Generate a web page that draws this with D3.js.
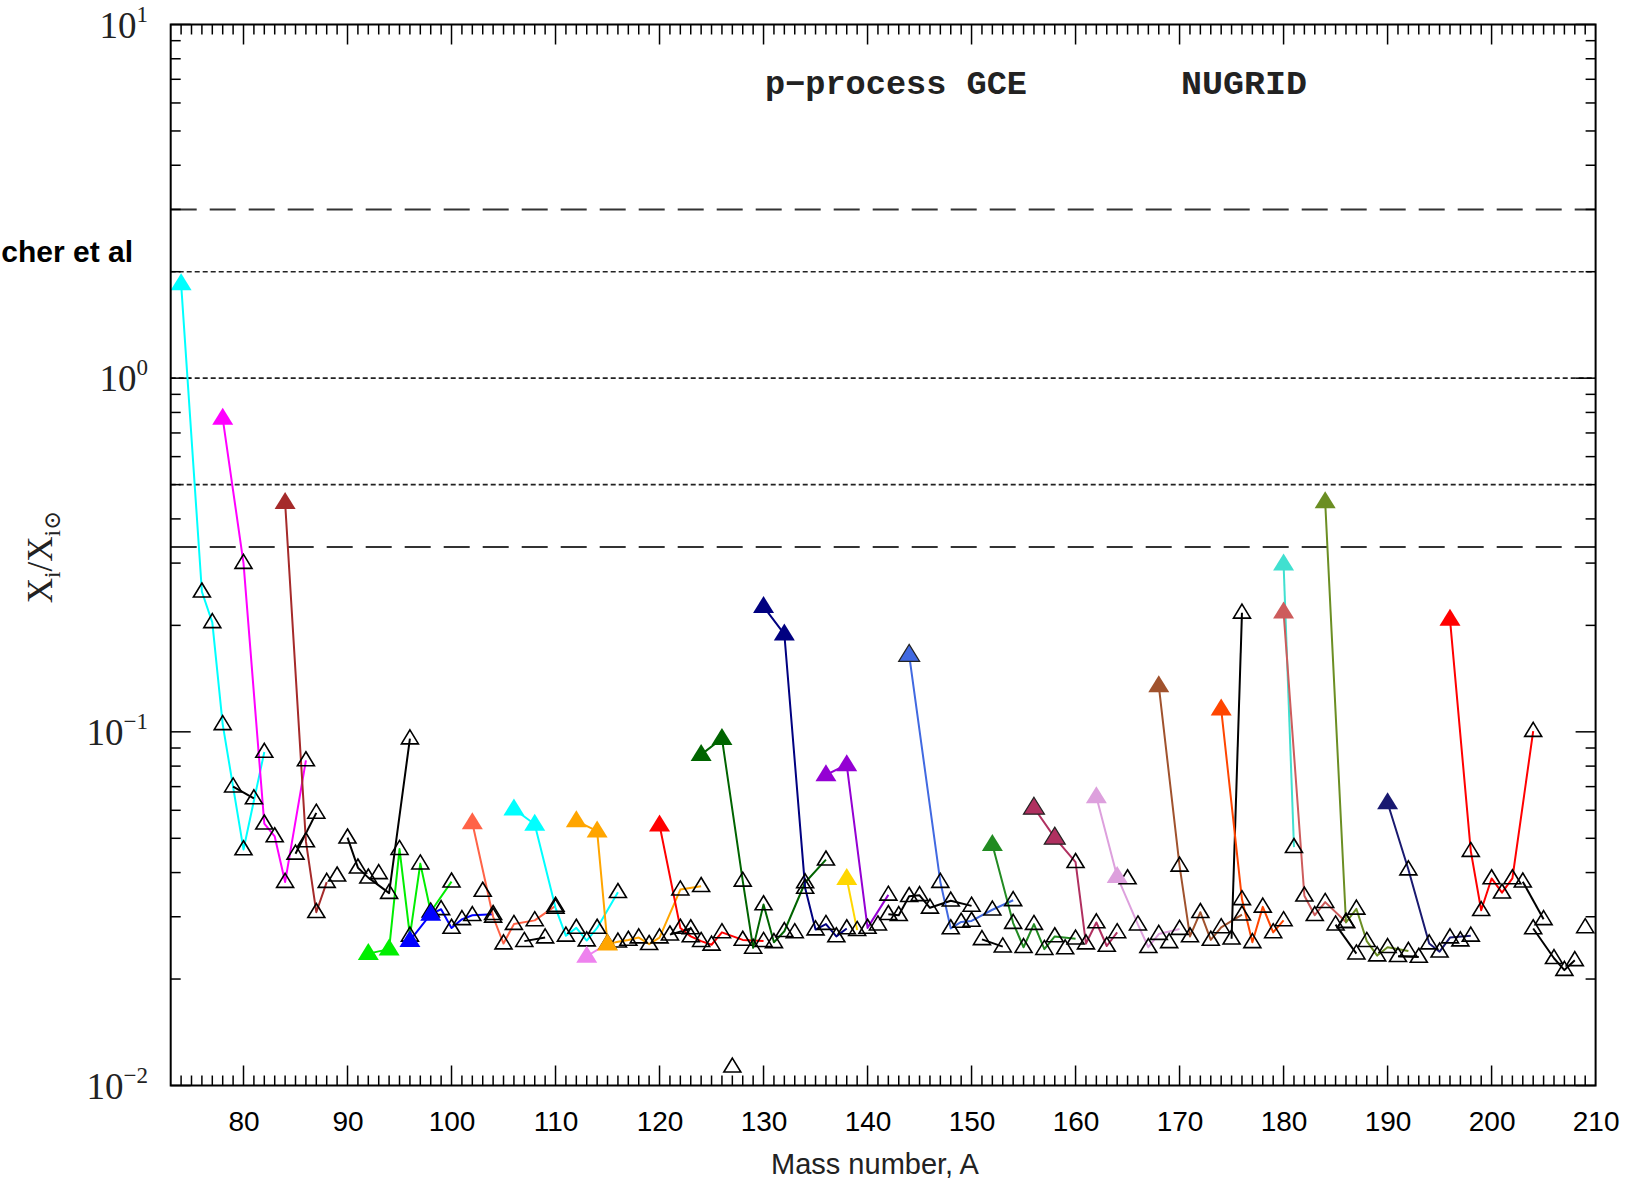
<!DOCTYPE html>
<html>
<head>
<meta charset="utf-8">
<script src="https://cdn.jsdelivr.net/npm/d3@7"></script>
<style>
  body { margin: 0; background: #fff; }
  svg { display: block; }
</style>
</head>
<body>
<svg id="chart" width="1632" height="1181"></svg>
<script>
// Isotopic overproduction X_i / X_i,sun from p-process GCE (NuGrid yields)
// each entry: [mass number A, ratio]
const Se = [[74,1.85],[76,0.249],[77,0.204],[78,0.105],[80,0.0465],[82,0.0877]];
const Br = [[79,0.070],[81,0.0648]];
const Kr = [[78,0.77],[80,0.30],[82,0.055],[83,0.0506],[84,0.0376],[86,0.083]];
const Rb = [[85,0.0452],[87,0.059]];
const Sr = [[84,0.445],[86,0.049],[87,0.0309],[88,0.0376]];
const Y  = [[89,0.0392]];
const Zr = [[90,0.0502],[91,0.0413],[92,0.0387],[94,0.035],[96,0.0957]];
const Nb = [[93,0.0398]];
const Mo = [[92,0.0236],[94,0.0243],[95,0.0466],[96,0.0265],[97,0.0424],[98,0.031],[100,0.0377]];
const Ru = [[96,0.0257],[98,0.0305],[99,0.0315],[100,0.0279],[101,0.0295],[102,0.0303],[104,0.0305]];
const Rh = [[103,0.0355]];
const Pd = [[102,0.0553],[104,0.030],[105,0.0252],[106,0.0286],[108,0.0293],[110,0.0322]];
const Ag = [[107,0.0256],[109,0.0262]];
const Cd = [[106,0.0605],[108,0.0548],[110,0.0318],[111,0.0265],[112,0.0279],[113,0.0257],[114,0.0279],[116,0.0352]];
const In = [[113,0.0232],[115,0.0252]];
const Sn = [[112,0.056],[114,0.0524],[115,0.0251],[116,0.0255],[117,0.0258],[118,0.0262],[119,0.0251],[120,0.0262],[122,0.0358],[124,0.0366]];
const Sb = [[121,0.0267],[123,0.0278]];
const Te = [[120,0.0545],[122,0.0279],[123,0.0264],[124,0.0256],[125,0.025],[126,0.0271],[128,0.0258],[130,0.0256]];
const I  = [[127,0.0113]];
const Xe = [[124,0.0862],[126,0.0958],[128,0.0379],[129,0.0245],[130,0.0325],[131,0.0254],[132,0.0273],[134,0.0375],[136,0.0435]];
const Cs = [[133,0.0271]];
const Ba = [[130,0.226],[132,0.189],[134,0.0362],[135,0.0276],[136,0.0286],[137,0.0264],[138,0.0278]];
const La = [[138,0.0385],[139,0.0275]];
const Ce = [[136,0.0756],[138,0.0807],[140,0.0279],[142,0.0346]];
const Pr = [[141,0.0285]];
const Nd = [[142,0.0305],[143,0.0303],[144,0.0343],[145,0.0345],[146,0.0318],[148,0.0333],[150,0.0322]];
const Sm = [[144,0.165],[147,0.0376],[148,0.0278],[149,0.029],[150,0.0292],[152,0.0314],[154,0.0334]];
const Eu = [[151,0.0259],[153,0.0247]];
const Gd = [[152,0.048],[154,0.0288],[155,0.0246],[156,0.0286],[157,0.0243],[158,0.0264],[160,0.026]];
const Tb = [[159,0.0244]];
const Dy = [[156,0.061],[158,0.0502],[160,0.0428],[161,0.0252],[162,0.0289],[163,0.0248],[164,0.0271]];
const Ho = [[165,0.0385]];
const Er = [[162,0.0655],[164,0.039],[166,0.0285],[167,0.0246],[168,0.0268],[170,0.0277]];
const Tm = [[169,0.0254]];
const Yb = [[168,0.135],[170,0.0418],[171,0.0264],[172,0.0309],[173,0.0258],[174,0.028],[176,0.0304]];
const Lu = [[175,0.026],[176,0.217]];
const Hf = [[174,0.116],[176,0.0336],[177,0.0254],[178,0.032],[179,0.0271],[180,0.0293]];
const Ta = [[180,0.298],[181,0.0472]];
const W  = [[180,0.218],[182,0.0344],[183,0.0303],[184,0.033],[186,0.029]];
const Re = [[185,0.0285],[187,0.0236]];
const Os = [[184,0.447],[186,0.0289],[187,0.0316],[188,0.0256],[189,0.0233],[190,0.0246],[192,0.024]];
const Ir = [[191,0.0232],[193,0.0231]];
const Pt = [[190,0.063],[192,0.0408],[194,0.0252],[195,0.0239],[196,0.0262],[198,0.0265]];
const Au = [[197,0.0257]];
const Hg = [[196,0.208],[198,0.046],[199,0.0313],[200,0.0385],[201,0.0351],[202,0.0385],[204,0.1005]];
const Tl = [[203,0.0377],[205,0.0295]];
const Pb = [[204,0.0278],[206,0.0229],[207,0.0212],[208,0.0226]];
const Bi = [[209,0.028]];

// p-only nuclei, drawn as filled symbols
const pNuclei = ["Se74","Kr78","Sr84","Mo92","Mo94","Ru96","Ru98","Pd102","Cd106","Cd108",
  "In113","Sn112","Sn114","Sn115","Te120","Xe124","Xe126","Ba130","Ba132","La138","Ce136","Ce138",
  "Sm144","Gd152","Dy156","Dy158","Er162","Er164","Yb168","Hf174","Ta180","W180","Os184","Pt190","Hg196"];

const elements = [
  ["Se",Se],["Br",Br],["Kr",Kr],["Rb",Rb],["Sr",Sr],["Y",Y],["Zr",Zr],["Nb",Nb],["Mo",Mo],["Ru",Ru],
  ["Rh",Rh],["Pd",Pd],["Ag",Ag],["Cd",Cd],["In",In],["Sn",Sn],["Sb",Sb],["Te",Te],["I",I],["Xe",Xe],
  ["Cs",Cs],["Ba",Ba],["La",La],["Ce",Ce],["Pr",Pr],["Nd",Nd],["Sm",Sm],["Eu",Eu],["Gd",Gd],["Tb",Tb],
  ["Dy",Dy],["Ho",Ho],["Er",Er],["Tm",Tm],["Yb",Yb],["Lu",Lu],["Hf",Hf],["Ta",Ta],["W",W],["Re",Re],
  ["Os",Os],["Ir",Ir],["Pt",Pt],["Au",Au],["Hg",Hg],["Tl",Tl],["Pb",Pb],["Bi",Bi]
];

// elements carrying p-nuclei get their own colour, the rest are black
const elementColor = {
  Se:"#00ffff", Kr:"#ff00ff", Sr:"#a52a2a", Mo:"#00ee00", Ru:"#0000ff", Pd:"#ff6347", Cd:"#00ffff",
  In:"#ee82ee", Sn:"#ffa500", Te:"#ff0000", Xe:"#006400", Ba:"#000080", La:"#ffd700", Ce:"#9400d3",
  Sm:"#4169e1", Gd:"#228b22", Dy:"#b03060", Er:"#dda0dd", Yb:"#a0522d", Hf:"#ff4500", Ta:"#40e0d0",
  W:"#cd5c5c", Os:"#6b8e23", Pt:"#191970", Hg:"#ff0000"
};
const outlinedP = ["Sm144","Dy156","Dy158"];

// reference factors
const dashedRefs = [3, 1/3];
const dottedRefs = [2, 1, 0.5];

const xTicks = d3.range(80, 211, 10);
const yDecades = [0.01, 0.1, 1, 10];
const yLabels = [["10","\u22122"],["10","\u22121"],["10","0"],["10","1"]];

const svg = d3.select("#chart");
const W0 = 170.7, W1 = 1595.6, H0 = 24.5, H1 = 1085.5;
const x = d3.scaleLinear().domain([73, 210]).range([W0, W1]);
const y = d3.scaleLog().domain([0.01, 10]).range([H1, H0]);

// reference lines
const refs = svg.append("g");
dashedRefs.forEach(v => refs.append("line")
  .attr("x1", W0).attr("x2", W1).attr("y1", y(v)).attr("y2", y(v))
  .attr("stroke", "#333").attr("stroke-width", 2).attr("stroke-dasharray", "26,13"));
dottedRefs.forEach(v => refs.append("line")
  .attr("x1", W0).attr("x2", W1).attr("y1", y(v)).attr("y2", y(v))
  .attr("stroke", "#222").attr("stroke-width", 1.6).attr("stroke-dasharray", "5,3"));

// axis ticks: minor every mass unit, major each 10
const minorX = d3.range(74, 210, 1);
const yMinor = [];
[0.01, 0.1, 1].forEach(d => { for (let k = 2; k <= 9; k++) yMinor.push(d * k); });

const ax = svg.append("g").attr("stroke", "#000").attr("stroke-width", 1.5);
minorX.forEach(a => {
  const len = (a % 10 === 0) ? 20 : 10;
  ax.append("line").attr("x1", x(a)).attr("x2", x(a)).attr("y1", H1).attr("y2", H1 - len);
  ax.append("line").attr("x1", x(a)).attr("x2", x(a)).attr("y1", H0).attr("y2", H0 + len);
});
yMinor.concat(yDecades).forEach(v => {
  const len = yDecades.includes(v) ? 20 : 10;
  ax.append("line").attr("x1", W0).attr("x2", W0 + len).attr("y1", y(v)).attr("y2", y(v));
  ax.append("line").attr("x1", W1).attr("x2", W1 - len).attr("y1", y(v)).attr("y2", y(v));
});

// bottom axis labels through d3.axisBottom
const xAxis = d3.axisBottom(x).tickValues(xTicks).tickSize(0).tickPadding(26).tickFormat(d3.format("d"));
svg.append("g").attr("transform", `translate(0,${H1})`).call(xAxis)
  .call(g => g.select(".domain").remove())
  .selectAll("text")
  .attr("font-family", "'Liberation Sans', Arial, sans-serif")
  .attr("font-size", 28).attr("fill", "#000");

// left axis labels 10^n
yDecades.forEach((v, i) => {
  const t = svg.append("text")
    .attr("x", 148).attr("y", y(v) + 13)
    .attr("text-anchor", "end")
    .attr("font-family", "'Liberation Serif', 'DejaVu Serif', serif")
    .attr("fill", "#222");
  t.append("tspan").attr("font-size", 37).text(yLabels[i][0]);
  t.append("tspan").attr("font-size", 23).attr("dy", -16).text(yLabels[i][1]);
});

// data lines
const line = d3.line().x(d => x(d[0])).y(d => y(d[1]));
const lines = svg.append("g").attr("fill", "none");
elements.forEach(([name, iso]) => {
  if (iso.length < 2) return;
  lines.append("path").datum(iso).attr("d", line)
    .attr("stroke", elementColor[name] || "#000")
    .attr("stroke-width", 2).attr("stroke-linejoin", "round");
});

// symbols
const tri = (w, h) => `M0,${-h * 0.62}L${w / 2},${h * 0.38}L${-w / 2},${h * 0.38}Z`;
const open = svg.append("g"), filled = svg.append("g");
elements.forEach(([name, iso]) => {
  iso.forEach(d => {
    const key = name + d[0];
    if (pNuclei.includes(key)) {
      filled.append("path").attr("d", tri(21, 17))
        .attr("transform", `translate(${x(d[0])},${y(d[1])})`)
        .attr("fill", elementColor[name])
        .attr("stroke", outlinedP.includes(key) ? "#222" : "none")
        .attr("stroke-width", 1.2);
    } else {
      open.append("path").attr("d", tri(17, 14))
        .attr("transform", `translate(${x(d[0])},${y(d[1])})`)
        .attr("fill", "none").attr("stroke", "#000").attr("stroke-width", 1.6)
        .attr("stroke-linejoin", "miter");
    }
  });
});

// frame
svg.append("rect").attr("x", W0).attr("y", H0).attr("width", W1 - W0).attr("height", H1 - H0)
  .attr("fill", "none").attr("stroke", "#000").attr("stroke-width", 2);

// annotations
svg.append("text").attr("x", 765).attr("y", 94)
  .attr("font-family", "'Liberation Mono', 'DejaVu Sans Mono', monospace")
  .attr("font-weight", "bold").attr("font-size", 33).attr("fill", "#222")
  .attr("textLength", 262).attr("lengthAdjust", "spacingAndGlyphs")
  .text("p\u2212process GCE");
svg.append("text").attr("x", 1181).attr("y", 94)
  .attr("font-family", "'Liberation Mono', 'DejaVu Sans Mono', monospace")
  .attr("font-weight", "bold").attr("font-size", 33).attr("fill", "#222")
  .attr("textLength", 126).attr("lengthAdjust", "spacingAndGlyphs")
  .text("NUGRID");
svg.append("text").attr("x", 133).attr("y", 262).attr("text-anchor", "end")
  .attr("font-family", "'Liberation Sans', Arial, sans-serif")
  .attr("font-weight", "bold").attr("font-size", 30).attr("fill", "#000")
  .text("cher et al");

// axis titles
svg.append("text").attr("x", 875).attr("y", 1174).attr("text-anchor", "middle")
  .attr("font-family", "'Liberation Sans', Arial, sans-serif")
  .attr("font-size", 29).attr("fill", "#222")
  .text("Mass number, A");

const yt = svg.append("text")
  .attr("transform", "translate(52,557) rotate(-90)")
  .attr("text-anchor", "middle")
  .attr("font-family", "'Liberation Serif', 'DejaVu Serif', serif")
  .attr("font-size", 35).attr("fill", "#222");
yt.append("tspan").text("X");
yt.append("tspan").attr("font-size", 23).attr("dy", 8).text("i");
yt.append("tspan").attr("dy", -8).text("/X");
yt.append("tspan").attr("font-size", 23).attr("dy", 8).text("i\u2299");
</script>
</body>
</html>
